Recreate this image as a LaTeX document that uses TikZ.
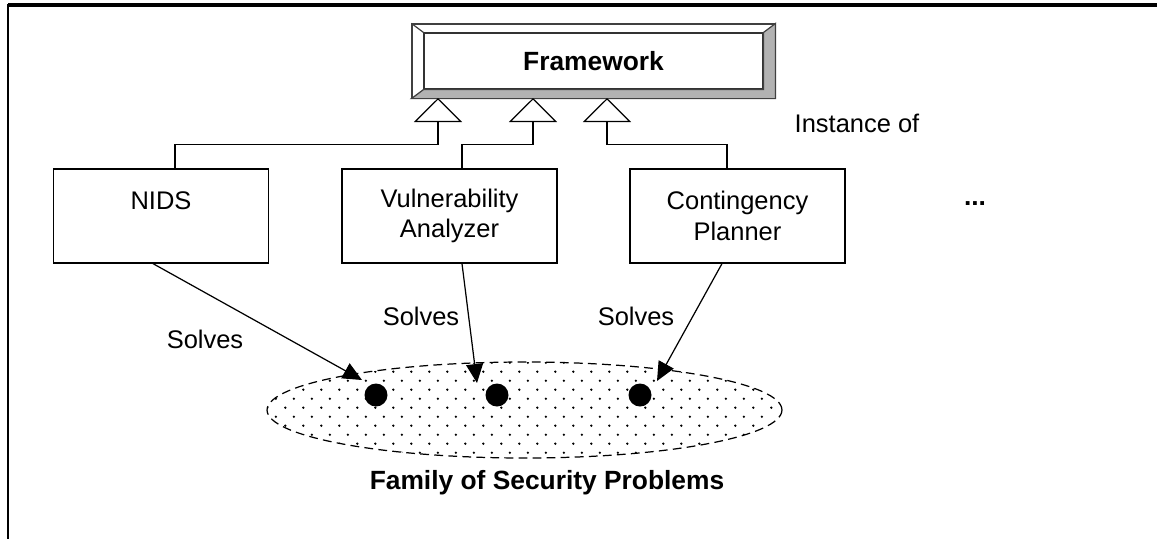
\documentclass[tikz,border=0pt]{standalone}
\usepackage{fontspec}
\setmainfont{Liberation Sans}
\usetikzlibrary{arrows.meta,calc,shapes.geometric,patterns.meta}

\tikzdeclarepattern{
  name=sparsedots,
  type=uncolored,
  bounding box={(0pt,0pt) and (10pt,10.5pt)},
  tile size={(10pt,10.5pt)},
  code={
    \fill (2.5pt,2.5pt) circle (0.75pt);
    \fill (7.5pt,7.75pt) circle (0.75pt);
  }
}

\begin{document}
\begin{tikzpicture}[x=0.02cm, y=-0.02cm,
    every node/.style={font=\fontsize{14.5}{17.5}\selectfont},
    toolbox/.style={draw, line width=0.7pt, minimum width=4.3cm, minimum height=1.88cm, align=center, inner sep=0pt},
    instance/.style={line width=0.7pt, -{Triangle[open, length=0.48cm, width=0.96cm]}},
    solves/.style={line width=0.7pt, -{Triangle[length=0.38cm, width=0.34cm]}},
    problem/.style={circle, fill, minimum size=0.46cm, inner sep=0pt},
    boldtag/.style={font=\fontsize{15}{18}\selectfont\bfseries, inner sep=0pt}]
    \useasboundingbox (0,0) rectangle (1157,539);
    % page frame
    \draw[line width=2pt] (1157,5) -- (8,5);
    \draw[line width=1.4pt] (8,4) -- (8,539);
    % framework box with bevel
    \node[draw=black!75, line width=0.7pt, minimum width=7.26cm, minimum height=1.48cm] (fwout) at (593.5,61) {};
    \node[draw=black!80, line width=0.7pt, minimum width=6.78cm, minimum height=1.12cm, boldtag] (fwin) at (593.5,61) {Framework};
    \filldraw[fill=black!30, draw=black!75, line width=0.7pt] (fwout.south west) -- (fwout.south east) -- (fwout.north east)
        -- (fwin.north east) -- (fwin.south east) -- (fwin.south west) -- cycle;
    \draw[black!75, line width=0.7pt] (fwout.north west) -- (fwin.north west);
    \coordinate (t1) at (438,98);
    \coordinate (t2) at (533,98);
    \coordinate (t3) at (607,98);
    % instances
    \node[toolbox] (nids) at (161,216) {NIDS\\ \mbox{}};
    \node[toolbox] (va) at (449.5,216) {Vulnerability\\Analyzer};
    \node[toolbox] (cp) at (737.5,216) {Contingency\\Planner};
    \draw[instance] ($(nids.north)+(14,0)$) -- ++(0,-24) -| (t1);
    \draw[instance] ($(va.north)+(12.5,0)$) -- ++(0,-24) -| (t2);
    \draw[instance] ($(cp.north)+(-10.5,0)$) -- ++(0,-24) -| (t3);
    \node[inner sep=0pt] (inst) at (857,123) {Instance of};
    \node[inner sep=0pt, font=\fontsize{15}{18}\selectfont\bfseries] (more) at (975,204) {...};
    % family of problems
    \node[ellipse, draw, dash pattern=on 5pt off 3pt, line width=0.7pt, pattern=sparsedots,
        minimum width=10.3cm, minimum height=1.92cm] (family) at (524.5,410) {};
    \node[problem] (p1) at (376,395) {};
    \node[problem] (p2) at (497,395) {};
    \node[problem] (p3) at (640,395) {};
    \node[boldtag] (famlabel) at (547,483) {Family of Security Problems};
    \coordinate (s1) at (362,380);
    \coordinate (s2) at (477,383);
    \coordinate (s3) at (657,381);
    \draw[solves] ($(nids.south)+(-8,0)$) -- (s1);
    \draw[solves] ($(va.south)+(12.5,0)$) -- (s2);
    \draw[solves] ($(cp.south)+(-15.5,0)$) -- (s3);
    \node[inner sep=0pt] (sol1) at (205,339) {Solves};
    \node[inner sep=0pt] (sol2) at (421,316) {Solves};
    \node[inner sep=0pt] (sol3) at (636,316) {Solves};
\end{tikzpicture}
\end{document}
